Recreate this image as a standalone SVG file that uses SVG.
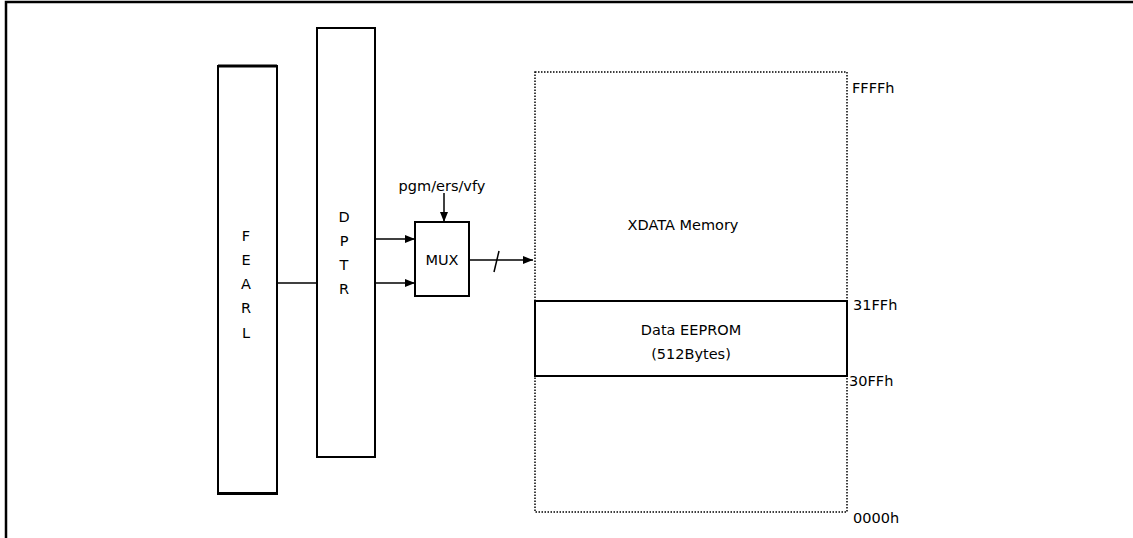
<svg xmlns="http://www.w3.org/2000/svg" width="1133" height="538" viewBox="0 0 1133 538">
<style>
.box{fill:#fff;stroke:#000;stroke-width:2}
.dot{fill:none;stroke:#000;stroke-width:1.5;stroke-dasharray:1.5 1.5}
.ln{fill:none;stroke:#000;stroke-width:1.5}
text{font-family:"DejaVu Sans",sans-serif;font-size:14.5px;fill:#000}
.c{text-anchor:middle}
</style>
<defs>
<marker id="ah" viewBox="0 0 10 10" refX="10" refY="5" markerWidth="10" markerHeight="10" markerUnits="userSpaceOnUse" orient="auto">
<path d="M0,1 L10,5 L0,9 Z" fill="#000"/>
</marker>
</defs>
<rect width="1133" height="538" fill="#fff"/>
<g id="frame">
<path d="M6,538 V2 H1133" fill="none" stroke="#000" stroke-width="2.5"/>
</g>
<g id="fearl">
<rect class="box" x="218" y="66" width="59" height="428"/>
<path d="M218,66 H277 M218,493.5 H277" stroke="#000" stroke-width="3"/>
<text class="c" x="246" y="241">F</text>
<text class="c" x="246" y="265">E</text>
<text class="c" x="246" y="289">A</text>
<text class="c" x="246" y="313">R</text>
<text class="c" x="246" y="338">L</text>
</g>
<g id="dptr">
<rect class="box" x="317" y="28" width="58" height="429"/>
<text class="c" x="344" y="222">D</text>
<text class="c" x="344" y="246">P</text>
<text class="c" x="344" y="270">T</text>
<text class="c" x="344" y="294">R</text>
</g>
<g id="mux">
<rect class="box" x="415" y="222" width="54" height="74"/>
<text class="c" x="442" y="265">MUX</text>
</g>
<g id="ctrl">
<text class="c" x="442" y="191">pgm/ers/vfy</text>
</g>
<g id="xdata">
<rect class="dot" x="535" y="72" width="312" height="440"/>
<text class="c" x="683" y="230">XDATA Memory</text>
</g>
<g id="eeprom">
<rect class="box" x="535" y="301" width="312" height="75"/>
<text class="c" x="691" y="335">Data EEPROM</text>
<text class="c" x="691" y="359">(512Bytes)</text>
</g>
<g id="labels">
<text x="852" y="93">FFFFh</text>
<text x="853" y="310">31FFh</text>
<text x="849" y="386">30FFh</text>
<text x="853" y="523">0000h</text>
</g>
<g id="connectors">
<line class="ln" x1="277" y1="283" x2="317" y2="283"/>
<line class="ln" x1="375" y1="239" x2="415" y2="239" marker-end="url(#ah)"/>
<line class="ln" x1="375" y1="283" x2="415" y2="283" marker-end="url(#ah)"/>
<line class="ln" x1="444" y1="193" x2="444" y2="222" marker-end="url(#ah)"/>
<line class="ln" x1="469" y1="260" x2="533" y2="260" marker-end="url(#ah)"/>
<line class="ln" x1="494" y1="272" x2="499" y2="251"/>
</g>
</svg>
